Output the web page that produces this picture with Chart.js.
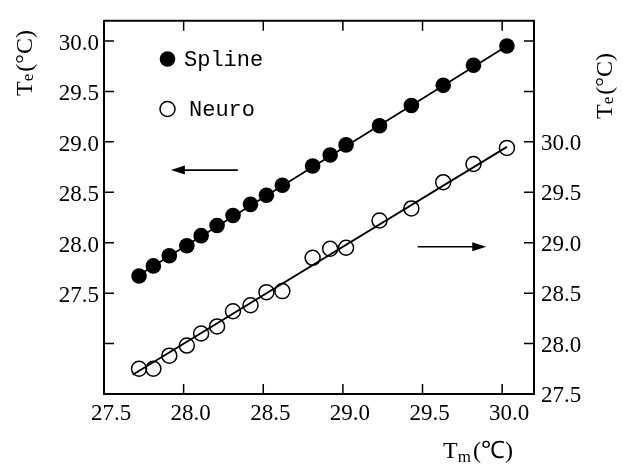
<!DOCTYPE html>
<html>
<head>
<meta charset="utf-8">
<script src="https://cdn.jsdelivr.net/npm/chart.js@4.4.1/dist/chart.umd.min.js"></script>
<style>
  html, body { margin: 0; padding: 0; background: #fff; }
  canvas { display: block; }
</style>
</head>
<body>
<canvas id="chart" width="623" height="466"></canvas>
<script>
// measured temperature Tm (shared by both series)
const tmValues = [27.72, 27.81, 27.91, 28.02, 28.11, 28.21, 28.31, 28.42, 28.52, 28.62,
                  28.81, 28.92, 29.02, 29.23, 29.43, 29.63, 29.82, 30.03];
// estimated Te, left axis
const splineValues = [27.67, 27.77, 27.87, 27.97, 28.07, 28.17, 28.27, 28.38, 28.47, 28.57,
                      28.76, 28.87, 28.97, 29.16, 29.36, 29.56, 29.76, 29.95];
// estimated Te, right axis
const neuroValues = [27.75, 27.75, 27.88, 27.98, 28.10, 28.17, 28.32, 28.38, 28.51, 28.52,
                     28.85, 28.94, 28.95, 29.22, 29.34, 29.60, 29.78, 29.94];

// fitted lines (end points)
const splineFitX = [27.70, 30.05];
const splineFitY = [27.66, 29.97];
const neuroFitX = [27.68, 30.03];
const neuroFitY = [27.69, 29.95];

// arrows pointing to the axis each series belongs to: [tail, head]
const leftArrowX = [28.34, 27.92];
const leftArrowY = 28.72;
const rightArrowX = [29.47, 29.90];
const rightArrowY = 28.96;

const xTicks = [27.5, 28.0, 28.5, 29.0, 29.5, 30.0];
const xTickLabels = ['27.5', '28.0', '28.5', '29.0', '29.5', '30.0'];
const leftTicks = [27.0, 27.5, 28.0, 28.5, 29.0, 29.5, 30.0];
const leftTickLabels = ['', '27.5', '28.0', '28.5', '29.0', '29.5', '30.0'];
const rightTicks = [27.5, 28.0, 28.5, 29.0, 29.5, 30.0, 30.5, 31.0];
const rightTickLabels = ['27.5', '28.0', '28.5', '29.0', '29.5', '30.0', '', ''];

const seriesNames = ['Spline', 'Neuro'];

const tickFont = { family: 'Liberation Serif', size: 23 };
const TICK_LEN = 10;

function pairs(xs, ys) {
    return xs.map((x, i) => ({ x: x, y: ys[i] }));
}

function setTicks(values) {
    return scale => { scale.ticks = values.map(v => ({ value: v })); };
}

// draws "T" + small subscript + "(°C)" centred at 0,0 in the current transform
function drawTitle(ctx, sub, unit, subShift) {
    const big = '24px "Liberation Serif"';
    const small = '17px "Liberation Serif"';
    ctx.font = big;
    const wT = ctx.measureText('T').width;
    const wU = ctx.measureText(unit).width;
    ctx.font = small;
    const wS = ctx.measureText(sub).width;
    let x = -(wT + wS + wU + 2) / 2;
    ctx.textBaseline = 'alphabetic';
    ctx.textAlign = 'left';
    ctx.font = big;
    ctx.fillText('T', x, 8);
    x += wT;
    ctx.font = small;
    ctx.fillText(sub, x, 8 + subShift);
    x += wS + 2;
    ctx.font = big;
    ctx.fillText(unit, x, 8);
}

function drawArrow(ctx, x0, y0, x1, y1) {
    const dir = Math.sign(x1 - x0);
    ctx.beginPath();
    ctx.moveTo(x0, y0);
    ctx.lineTo(x1 - dir * 12, y1);
    ctx.stroke();
    ctx.beginPath();
    ctx.moveTo(x1, y1);
    ctx.lineTo(x1 - dir * 14, y1 - 4.5);
    ctx.lineTo(x1 - dir * 14, y1 + 4.5);
    ctx.closePath();
    ctx.fill();
}

const framePlugin = {
    id: 'frame',
    afterDraw(chart) {
        const ctx = chart.ctx;
        const area = chart.chartArea;
        const sx = chart.scales.x, sy = chart.scales.y, sy2 = chart.scales.y2;
        ctx.save();
        ctx.strokeStyle = '#000';
        ctx.fillStyle = '#000';

        // top border
        ctx.lineWidth = 2;
        ctx.beginPath();
        ctx.moveTo(area.left, area.top);
        ctx.lineTo(area.right, area.top);
        ctx.stroke();

        // inward ticks
        ctx.lineWidth = 1.5;
        ctx.beginPath();
        xTicks.forEach(v => {
            const p = sx.getPixelForValue(v);
            ctx.moveTo(p, area.bottom);
            ctx.lineTo(p, area.bottom - TICK_LEN);
            ctx.moveTo(p, area.top);
            ctx.lineTo(p, area.top + TICK_LEN);
        });
        leftTicks.forEach(v => {
            const p = sy.getPixelForValue(v);
            ctx.moveTo(area.left, p);
            ctx.lineTo(area.left + TICK_LEN, p);
        });
        rightTicks.forEach(v => {
            const p = sy2.getPixelForValue(v);
            ctx.moveTo(area.right, p);
            ctx.lineTo(area.right - TICK_LEN, p);
        });
        ctx.stroke();

        // arrows
        ctx.lineWidth = 1.6;
        drawArrow(ctx, sx.getPixelForValue(leftArrowX[0]), sy.getPixelForValue(leftArrowY),
                  sx.getPixelForValue(leftArrowX[1]), sy.getPixelForValue(leftArrowY));
        drawArrow(ctx, sx.getPixelForValue(rightArrowX[0]), sy2.getPixelForValue(rightArrowY),
                  sx.getPixelForValue(rightArrowX[1]), sy2.getPixelForValue(rightArrowY));

        // legend
        ctx.beginPath();
        ctx.arc(167.5, 59, 7.8, 0, Math.PI * 2);
        ctx.fill();
        ctx.lineWidth = 1.5;
        ctx.beginPath();
        ctx.arc(167.5, 109, 7.5, 0, Math.PI * 2);
        ctx.stroke();
        ctx.font = '22px "Liberation Mono"';
        ctx.textAlign = 'left';
        ctx.textBaseline = 'middle';
        ctx.fillText(seriesNames[0], 184, 60);
        ctx.fillText(seriesNames[1], 189, 110);

        // axis titles
        ctx.save();
        ctx.translate(24, 63);
        ctx.rotate(-Math.PI / 2);
        drawTitle(ctx, 'e', '(°C)', 1);
        ctx.restore();

        ctx.save();
        ctx.translate(604, 86);
        ctx.rotate(-Math.PI / 2);
        drawTitle(ctx, 'e', '(°C)', 1);
        ctx.restore();

        ctx.save();
        ctx.translate(478, 450);
        drawTitle(ctx, 'm', '(℃)', 4);
        ctx.restore();

        ctx.restore();
    }
};

const axisBorder = { display: true, color: '#000', width: 2 };
const noGrid = { display: false, drawTicks: false };

new Chart(document.getElementById('chart'), {
    type: 'scatter',
    data: {
        datasets: [
            {
                label: 'Spline fit',
                data: pairs(splineFitX, splineFitY),
                yAxisID: 'y',
                showLine: true,
                borderColor: '#000',
                borderWidth: 1.8,
                pointRadius: 0
            },
            {
                label: 'Neuro fit',
                data: pairs(neuroFitX, neuroFitY),
                yAxisID: 'y2',
                showLine: true,
                borderColor: '#000',
                borderWidth: 1.8,
                pointRadius: 0
            },
            {
                label: seriesNames[0],
                data: pairs(tmValues, splineValues),
                yAxisID: 'y',
                pointRadius: 7.8,
                pointBackgroundColor: '#000',
                pointBorderColor: '#000',
                pointBorderWidth: 0
            },
            {
                label: seriesNames[1],
                data: pairs(tmValues, neuroValues),
                yAxisID: 'y2',
                pointRadius: 7.5,
                pointBackgroundColor: 'rgba(0,0,0,0)',
                pointBorderColor: '#000',
                pointBorderWidth: 1.5
            }
        ]
    },
    options: {
        responsive: false,
        animation: false,
        devicePixelRatio: 1,
        layout: { padding: { top: 14, left: 0, right: 0, bottom: 0 } },
        plugins: {
            legend: { display: false },
            tooltip: { enabled: false }
        },
        scales: {
            x: {
                type: 'linear',
                position: 'bottom',
                min: 27.5,
                max: 30.2,
                grid: noGrid,
                border: axisBorder,
                afterBuildTicks: setTicks(xTicks),
                afterFit: s => { s.height = 72; },
                ticks: {
                    color: '#000',
                    font: tickFont,
                    padding: 6,
                    labelOffset: 7,
                    maxRotation: 0,
                    autoSkip: false,
                    callback: (v, i) => xTickLabels[i]
                }
            },
            y: {
                type: 'linear',
                position: 'left',
                min: 26.5,
                max: 30.2,
                grid: noGrid,
                border: axisBorder,
                afterBuildTicks: setTicks(leftTicks),
                afterFit: s => { s.width = 104; },
                ticks: {
                    color: '#000',
                    font: tickFont,
                    padding: 5,
                    labelOffset: 3,
                    autoSkip: false,
                    callback: (v, i) => leftTickLabels[i]
                }
            },
            y2: {
                type: 'linear',
                position: 'right',
                min: 27.5,
                max: 31.2,
                grid: noGrid,
                border: axisBorder,
                afterBuildTicks: setTicks(rightTicks),
                afterFit: s => { s.width = 89; },
                ticks: {
                    color: '#000',
                    font: tickFont,
                    padding: 7,
                    labelOffset: 2,
                    autoSkip: false,
                    callback: (v, i) => rightTickLabels[i]
                }
            }
        }
    },
    plugins: [framePlugin]
});
</script>
</body>
</html>
